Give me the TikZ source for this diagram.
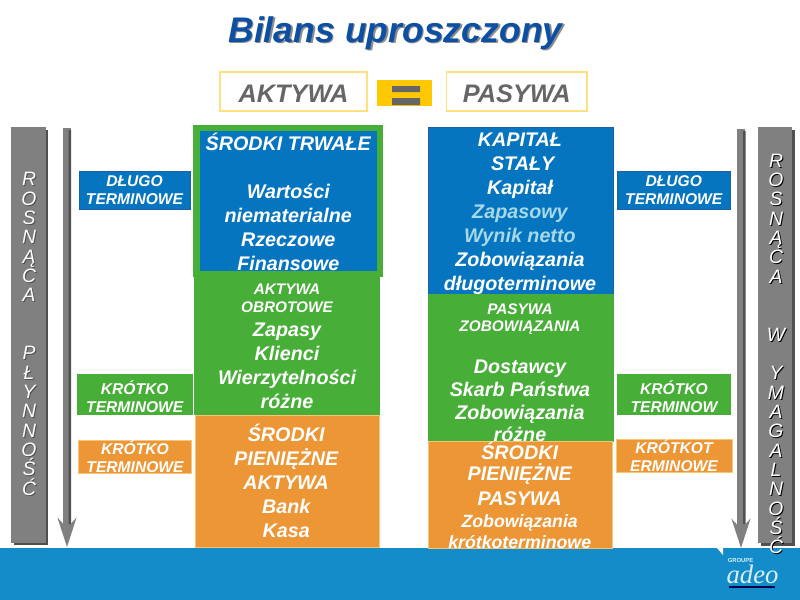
\documentclass[tikz,border=0pt]{standalone}
\usepackage{fontspec}
\setmainfont{Liberation Sans}
\newfontfamily\logofont{Liberation Serif}
\usetikzlibrary{arrows.meta}
\definecolor{panelblue}{HTML}{0575C0}
\definecolor{edgeblue}{HTML}{1F5FA8}
\definecolor{panelgreen}{HTML}{47AE38}
\definecolor{panelorange}{HTML}{EC9636}
\definecolor{edgeorange}{HTML}{F6C676}
\definecolor{bandblue}{HTML}{138CC9}
\definecolor{barlight}{HTML}{808080}
\definecolor{bardark}{HTML}{505050}
\definecolor{textgray}{HTML}{666666}
\definecolor{titleblue}{HTML}{0D4FA3}
\definecolor{paleblue}{HTML}{A6D8E8}
\definecolor{signyellow}{HTML}{FFC800}
\definecolor{headedge}{HTML}{FFDF80}
\definecolor{logopale}{HTML}{D8F0F8}
\newcommand{\smalltxt}{\fontsize{11.5}{13.5}\selectfont}
\newcommand{\minortxt}{\fontsize{13.3}{15}\selectfont}
\tikzset{
  boldtxt/.style={font=\fontsize{14.8}{18}\selectfont\bfseries\itshape, text=white, align=center, inner sep=0pt},
  tagtxt/.style={font=\fontsize{11.7}{13.5}\selectfont\bfseries\itshape, text=white, align=center, inner sep=0pt},
  headbox/.style={draw=headedge, fill=white, line width=0.8pt},
  headtxt/.style={font=\fontsize{19}{22}\selectfont\bfseries\itshape, text=textgray, inner sep=0pt, yshift=-1.5pt},
  bluebox/.style={fill=panelblue, draw=edgeblue, line width=0.6pt},
  greenbox/.style={fill=panelgreen, draw=panelgreen},
  orangebox/.style={fill=panelorange, draw=edgeorange, line width=0.6pt},
  sidetxt/.style={font=\fontsize{14.5}{14.5}\selectfont\itshape, align=center, inner sep=0pt},
  titletxt/.style={font=\fontsize{26.7}{30}\selectfont\bfseries\itshape, inner sep=0pt},
  downarrow/.style={line width=6pt, color=barlight, -{Stealth[length=21.75pt, width=14pt, inset=7.5pt]}}
}
\begin{document}
\begin{tikzpicture}[x=0.75pt, y=-0.75pt]
\useasboundingbox (0,0) rectangle (800,600);
\fill[bandblue] (0,548) rectangle (800,600);
\fill[white] (717,548) -- (723,548) -- (723,555) -- cycle;

% title
\node[titletxt, text=black!45] at (397,34.5) {Bilans uproszczony};
\node[titletxt, text=titleblue] (TITLE) at (395.5,33) {Bilans uproszczony};

% headers
\draw[headbox] (220,72) rectangle (367,111) node[pos=.5, headtxt](AK){AKTYWA};
\draw[headbox] (446.5,72) rectangle (587,111) node[pos=.5, headtxt](PA){PASYWA};
\fill[signyellow] (377,80) rectangle (432,106);
\fill[textgray] (392,86) rectangle (420,92) (392,98) rectangle (420,105);

% side bars
\fill[bardark] (14,130) rectangle (48,545);
\fill[barlight] (11,127) rectangle (45.5,542.5);
\fill[bardark] (761,130) rectangle (795,546);
\fill[barlight] (758,127) rectangle (792,543);

\node[sidetxt, text=bardark] at (30,335) {R\\O\\S\\N\\Ą\\C\\A\\~\\~\\P\\Ł\\Y\\N\\N\\O\\Ś\\Ć};
\node[sidetxt, text=white] (LSIDE) at (29,334) {R\\O\\S\\N\\Ą\\C\\A\\~\\~\\P\\Ł\\Y\\N\\N\\O\\Ś\\Ć};
\node[sidetxt, text=black] at (777,355) {R\\O\\S\\N\\Ą\\C\\A\\~\\~\\W\\~\\Y\\M\\A\\G\\A\\L\\N\\O\\Ś\\Ć};
\node[sidetxt, text=white] (RSIDE) at (776,354) {R\\O\\S\\N\\Ą\\C\\A\\~\\~\\W\\~\\Y\\M\\A\\G\\A\\L\\N\\O\\Ś\\Ć};

% arrows
\coordinate (LTOP) at (67,128);
\coordinate (LEND) at (67,547);
\coordinate (RTOP) at (741,129);
\coordinate (REND) at (741,548);
\draw[downarrow] (LTOP) -- (LEND);
\draw[downarrow] (RTOP) -- (REND);
\fill[bardark] (68.5,130) rectangle (71,524) (743,131) rectangle (745.5,524);

% left column
\fill[panelgreen] (193,125) rectangle (383,277);
\draw[bluebox, draw=none] (200,131) rectangle (376.5,271) node[pos=.5, boldtxt, yshift=-0.3pt](TRW){ŚRODKI TRWAŁE\\~\\Wartości\\niematerialne\\Rzeczowe\\Finansowe};
\draw[greenbox] (194.5,277) rectangle (379.5,414.5) node[pos=.5, boldtxt, yshift=-0.75pt](OBR){{\smalltxt AKTYWA}\\[-4.5pt]{\smalltxt OBROTOWE}\\Zapasy\\Klienci\\Wierzytelności\\różne};
\draw[orangebox] (195,415) rectangle (379,547) node[pos=.5, boldtxt, xshift=-0.6pt](PIE){ŚRODKI\\PIENIĘŻNE\\AKTYWA\\Bank\\Kasa};

% right column
\draw[bluebox] (428.5,127) rectangle (613,294) node[pos=.5, boldtxt, yshift=-2.3pt, xshift=-0.6pt](KAP){KAPITAŁ\\\ STAŁY\\Kapitał\\\textcolor{paleblue}{Zapasowy}\\\textcolor{paleblue}{Wynik netto}\\Zobowiązania\\długoterminowe};
\draw[greenbox] (428.5,294) rectangle (613,441) node[pos=.5, boldtxt, yshift=-4pt, xshift=-0.6pt](ZOB){{\smalltxt PASYWA}\\[-5.2pt]{\smalltxt ZOBOWIĄZANIA}\\[-4.5pt]~\\Dostawcy\\[-0.75pt]Skarb Państwa\\[-0.75pt]Zobowiązania\\[-1.5pt]różne};
\draw[orangebox] (428.5,441) rectangle (612.5,548) node[pos=.5, boldtxt, xshift=-0.6pt, yshift=-0.75pt](PAS){ŚRODKI\\[-2.2pt]PIENIĘŻNE\\[0.7pt]PASYWA\\[-1.5pt]{\minortxt Zobowiązania}\\[-2.2pt]{\minortxt krótkoterminowe}};

% tags
\draw[bluebox] (79,171) rectangle (190,209.5) node[pos=.5, tagtxt](LDL){DŁUGO\\TERMINOWE};
\draw[greenbox] (77.5,374.5) rectangle (192,414) node[pos=.5, tagtxt, yshift=-2.2pt](LKR){KRÓTKO\\TERMINOWE};
\draw[orangebox] (78.5,440) rectangle (191.5,473) node[pos=.5, tagtxt](LKO){KRÓTKO\\TERMINOWE};
\draw[bluebox] (617.5,171) rectangle (730,209.5) node[pos=.5, tagtxt](RDL){DŁUGO\\TERMINOWE};
\draw[greenbox] (617.5,374.5) rectangle (730.5,414) node[pos=.5, tagtxt, yshift=-2.2pt](RKR){KRÓTKO\\TERMINOW};
\draw[orangebox] (616,439.5) rectangle (732,472) node[pos=.5, tagtxt](RKO){KRÓTKOT\\ERMINOWE};

% logo
\node[font=\fontsize{4.4}{5}\selectfont\bfseries, text=logopale, inner sep=0pt] (GRP) at (740.5,560) {GROUPE};
\node[font=\fontsize{20}{22}\selectfont\logofont\itshape, text=logopale, inner sep=0pt] (ADEO) at (752.5,574) {adeo};
\draw[black!70!blue, line width=1.1pt] (729,587) -- (775,587);
\end{tikzpicture}
\end{document}
